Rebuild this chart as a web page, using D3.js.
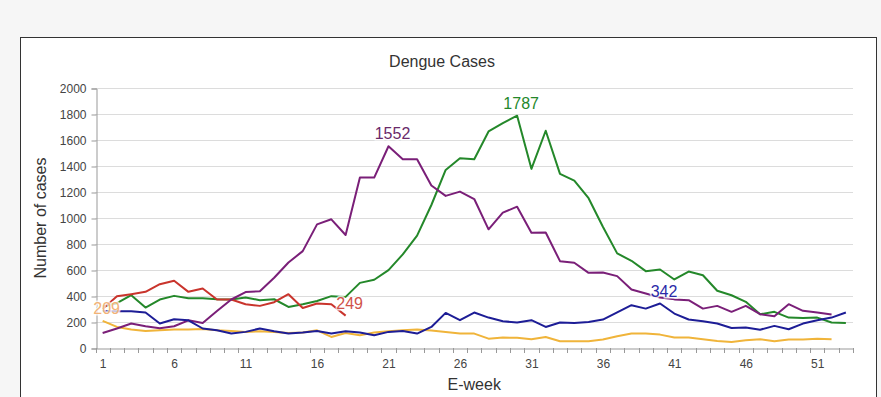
<!DOCTYPE html>
<html>
<head>
<meta charset="utf-8">
<script src="https://cdn.jsdelivr.net/npm/d3@7"></script>
<style>
  body { margin: 0; background: #f6f6f6; }
  svg { display: block; font-family: "Liberation Sans", Arial, sans-serif; }
</style>
</head>
<body>
<script>
// Weekly dengue cases (E-week 1..53)
var weeks = d3.range(1, 54);
var yTicks = [0, 200, 400, 600, 800, 1000, 1200, 1400, 1600, 1800, 2000];
var xTickLabels = [1, 6, 11, 16, 21, 26, 31, 36, 41, 46, 51];

var yellowCases = [209, 162, 142, 131, 136, 142, 142, 147, 136, 131, 124, 129, 124, 116, 119, 136, 85, 116, 98, 119,
    129, 136, 142, 135, 124, 111, 111, 72, 80, 78, 67, 85, 52, 52, 52, 65, 91, 111, 111, 103,
    80, 80, 67, 54, 46, 59, 67, 52, 65, 65, 72, 67];
var greenCases = [320, 345, 406, 311, 373, 401, 383, 383, 375, 373, 389, 368, 375, 316, 337, 362, 399, 393, 501, 525,
    599, 720, 864, 1100, 1370, 1460, 1452, 1666, 1730, 1787, 1378, 1671, 1339, 1288, 1152, 933, 728, 671, 591, 604,
    527, 588, 560, 440, 406, 355, 260, 278, 234, 231, 234, 196, 193];
var redCases = [300, 398, 414, 432, 491, 517, 432, 458, 373, 373, 337, 324, 352, 414, 308, 342, 337, 249];
var purpleCases = [116, 150, 188, 167, 152, 167, 213, 193, 285, 373, 430, 437, 540, 658, 745, 951, 990, 869, 1311, 1311,
    1552, 1452, 1452, 1250, 1170, 1203, 1146, 913, 1041, 1087, 887, 889, 668, 656, 578, 581, 553, 450, 419, 388,
    374, 368, 303, 324, 278, 324, 260, 244, 337, 286, 273, 257];
var blueCases = [285, 283, 283, 273, 188, 221, 213, 150, 136, 111, 124, 150, 129, 111, 119, 131, 111, 129, 119, 98,
    124, 131, 111, 162, 270, 214, 273, 234, 206, 196, 214, 162, 196, 193, 200, 219, 274, 329, 303, 342,
    265, 219, 206, 188, 154, 157, 141, 170, 144, 188, 214, 234, 273];

// drawing order: later ones on top; note = week whose value gets a label
var series = [
    { values: yellowCases, color: "#f0b43a", labelColor: "#f2b276", note: 1 },
    { values: greenCases,  color: "#24882a", labelColor: "#24882a", note: 30 },
    { values: redCases,    color: "#c9342c", labelColor: "#d0524a", note: 18 },
    { values: purpleCases, color: "#7a1f78", labelColor: "#6a2a6a", note: 21 },
    { values: blueCases,   color: "#1d1d96", labelColor: "#2a2aa8", note: 40 }
];

var width = 881,
    height = 397;

var svg = d3.select("body")
    .append("svg")
    .attr("width", width)
    .attr("height", height);

// frame of the chart box (runs off the bottom of the picture)
svg.append("rect")
    .attr("x", 20.5)
    .attr("y", 37.5)
    .attr("width", 856)
    .attr("height", 400)
    .style("fill", "#fff")
    .style("stroke", "#333")
    .style("stroke-width", 1);

var x = d3.scaleLinear()
    .domain([0.5, 53.5])
    .range([95.5, 853]);

var y = d3.scaleLinear()
    .domain([0, 2000])
    .range([348, 88]);

// horizontal grid
svg.append("g")
    .selectAll("line")
    .data(yTicks.slice(1))
    .enter().append("line")
    .attr("x1", x(0.5))
    .attr("x2", x(53.5))
    .attr("y1", function(d) { return Math.round(y(d)) + 0.5; })
    .attr("y2", function(d) { return Math.round(y(d)) + 0.5; })
    .style("stroke", "#dcdcdc");

// y axis
var yAxis = svg.append("g")
    .attr("transform", "translate(" + (Math.round(x(0.5)) + 0.5) + ",0.5)")
    .call(d3.axisLeft(y).tickValues(yTicks).tickFormat(d3.format("d")).tickSize(5).tickPadding(5));
yAxis.select(".domain").style("stroke", "#999");
yAxis.selectAll(".tick line").style("stroke", "#999");
yAxis.selectAll("text").style("font-size", "12px").style("fill", "#444").style("font-family", "inherit");

// x axis: labels every 5 weeks, ticks between weeks
var xAxis = svg.append("g")
    .attr("transform", "translate(0," + (Math.round(y(0)) + 0.5) + ")")
    .call(d3.axisBottom(x).tickValues(xTickLabels).tickSize(0).tickPadding(11));
xAxis.select(".domain").style("stroke", "#999");
xAxis.selectAll("text").style("font-size", "12px").style("fill", "#444").style("font-family", "inherit");

svg.append("g")
    .selectAll("line")
    .data(d3.range(0.5, 54, 1))
    .enter().append("line")
    .attr("x1", function(d) { return Math.round(x(d)) + 0.5; })
    .attr("x2", function(d) { return Math.round(x(d)) + 0.5; })
    .attr("y1", Math.round(y(0)))
    .attr("y2", Math.round(y(0)) + 5)
    .style("stroke", "#999");

// lines
var line = d3.line()
    .defined(function(d) { return d != null; })
    .x(function(d, i) { return x(weeks[i]); })
    .y(function(d) { return y(d); });

svg.append("g")
    .selectAll("path")
    .data(series)
    .enter().append("path")
    .attr("d", function(s) { return line(s.values); })
    .style("fill", "none")
    .style("stroke", function(s) { return s.color; })
    .style("stroke-width", 2)
    .style("stroke-linejoin", "round");

// value labels with a white halo, which paints over the lines under them
svg.append("g")
    .selectAll("text")
    .data(series)
    .enter().append("text")
    .attr("x", function(s) { return x(s.note) + 4; })
    .attr("y", function(s) { return y(s.values[s.note - 1]) - 7; })
    .attr("text-anchor", "middle")
    .style("font-size", "16px")
    .style("fill", function(s) { return s.labelColor; })
    .style("stroke", "rgba(255,255,255,0.75)")
    .style("stroke-width", 3)
    .style("paint-order", "stroke")
    .text(function(s) { return s.values[s.note - 1]; });

// titles
svg.append("text")
    .attr("x", 442)
    .attr("y", 67)
    .attr("text-anchor", "middle")
    .style("font-size", "16px")
    .style("fill", "#333")
    .text("Dengue Cases");

svg.append("text")
    .attr("transform", "translate(46," + ((y(0) + y(2000)) / 2) + ") rotate(-90)")
    .attr("text-anchor", "middle")
    .style("font-size", "16px")
    .style("fill", "#333")
    .text("Number of cases");

svg.append("text")
    .attr("x", (x(0.5) + x(53.5)) / 2)
    .attr("y", 390)
    .attr("text-anchor", "middle")
    .style("font-size", "16px")
    .style("fill", "#333")
    .text("E-week");
</script>
</body>
</html>
